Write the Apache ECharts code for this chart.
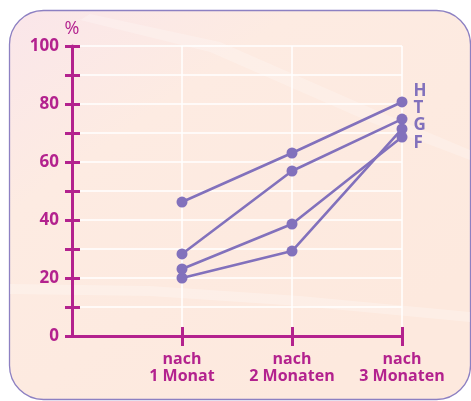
<!DOCTYPE html>
<html>
<head>
<meta charset="utf-8">
<script src="https://cdn.jsdelivr.net/npm/echarts@6/dist/echarts.min.js"></script>
<style>html,body{margin:0;padding:0;background:#fff}#c{width:471px;height:401px}</style>
</head>
<body>
<div id="c"></div>
<script>
const categories = ['nach\n1 Monat', 'nach\n2 Monaten', 'nach\n3 Monaten'];
const seriesNames = ['H', 'T', 'G', 'F'];
const valuesH = [46.2, 63.1, 80.7];
const valuesT = [28.3, 56.9, 74.8];
const valuesG = [20.0, 29.3, 71.4];
const valuesF = [23.1, 38.6, 68.6];
const yTickLabels = [0, 20, 40, 60, 80, 100];

const MAG = '#b3228e';
const PUR = '#8271bc';
const FONT = '"Open Sans", sans-serif';

const allValues = [valuesH, valuesT, valuesG, valuesF];
const labelOffsets = [[0, -11], [0, -11], [0, -4], [0, 6]];

const series = seriesNames.map((name, si) => ({
  name: name,
  type: 'line',
  data: allValues[si].map((v, i) => {
    const item = { value: [i + 1, v] };
    if (i === allValues[si].length - 1) {
      item.label = {
        show: true, formatter: name, position: 'right', distance: 6,
        offset: labelOffsets[si], color: PUR, fontSize: 17, fontWeight: 'bold', fontFamily: FONT
      };
    }
    return item;
  }),
  symbol: 'circle',
  symbolSize: 11,
  lineStyle: { color: PUR, width: 2.6 },
  itemStyle: { color: PUR },
  z: 5
}));

const chart = echarts.init(document.getElementById('c'), null, { renderer: 'canvas' });
chart.setOption({
  animation: false,
  graphic: [
    {
      type: 'rect', z: -100, silent: true,
      shape: { x: 9.5, y: 10.5, width: 461, height: 389, r: 34 },
      style: {
        fill: new echarts.graphic.LinearGradient(0, 0, 0.6, 1, [
          { offset: 0, color: '#fae6ea' },
          { offset: 0.35, color: '#fdebe2' },
          { offset: 1, color: '#fde9de' }
        ]),
        stroke: '#8d80c2', lineWidth: 1.3
      }
    },
    {
      type: 'polygon', z: -99, silent: true,
      shape: { points: [[90, 14], [220, 42], [380, 112], [470, 150], [470, 160], [370, 122], [210, 52], [80, 20]] },
      style: { fill: 'rgba(255,255,255,0.22)' }
    },
    {
      type: 'polygon', z: -99, silent: true,
      shape: { points: [[10, 284], [150, 286], [300, 296], [470, 312], [470, 322], [300, 306], [150, 296], [10, 294]] },
      style: { fill: 'rgba(255,255,255,0.25)' }
    }
  ],
  grid: { left: 72, right: 69, top: 46, bottom: 65, containLabel: false },
  xAxis: [
    {
      type: 'value', min: 0, max: 3, interval: 1,
      axisLine: { show: true, lineStyle: { color: MAG, width: 3 } },
      axisTick: { show: true, customValues: [1, 2, 3], length: 10, lineStyle: { color: MAG, width: 3 } },
      axisLabel: {
        customValues: [1, 2, 3],
        formatter: v => categories[Math.round(v) - 1] || '',
        color: MAG, fontSize: 16, fontWeight: 'bold', fontFamily: FONT, lineHeight: 17, margin: 15
      },
      splitLine: { show: true, lineStyle: { color: '#ffffff', width: 1.5 } }
    },
    {
      type: 'value', min: 0, max: 3, interval: 1, position: 'bottom',
      axisLine: { show: false },
      axisTick: { show: true, inside: true, customValues: [1, 2, 3], length: 9, lineStyle: { color: MAG, width: 3 } },
      axisLabel: { show: false },
      splitLine: { show: false }
    }
  ],
  yAxis: [
    {
      type: 'value', min: 0, max: 100, interval: 10,
      name: '%', nameLocation: 'end', nameGap: 3,
      nameTextStyle: { color: MAG, fontSize: 18, fontFamily: FONT, align: 'center', verticalAlign: 'bottom' },
      axisLine: { show: true, lineStyle: { color: MAG, width: 3 } },
      axisTick: { show: true, length: 7, lineStyle: { color: MAG, width: 3 } },
      axisLabel: {
        formatter: v => (yTickLabels.indexOf(v) >= 0 ? String(v) : ''),
        color: MAG, fontSize: 17, fontWeight: 'bold', fontFamily: FONT, margin: 13
      },
      splitLine: { show: true, lineStyle: { color: '#ffffff', width: 1.5 } }
    },
    {
      type: 'value', min: 0, max: 100, interval: 10, position: 'left',
      axisLine: { show: false },
      axisTick: { show: true, inside: true, length: 8, lineStyle: { color: MAG, width: 3 } },
      axisLabel: { show: false },
      splitLine: { show: false }
    }
  ],
  series: series
});
</script>
</body>
</html>
